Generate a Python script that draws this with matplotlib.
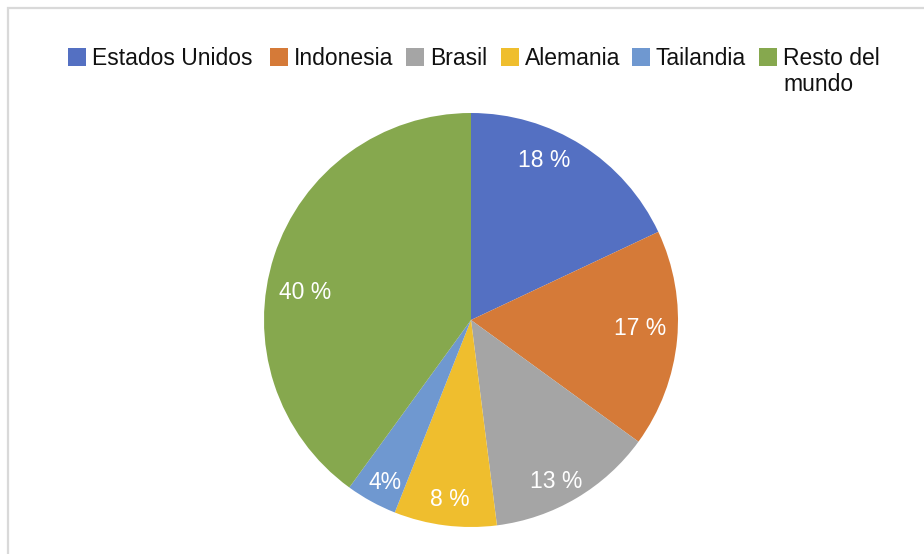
import numpy as np
import matplotlib
matplotlib.use("Agg")
import matplotlib.pyplot as plt
from matplotlib.patches import Rectangle

plt.rcParams['font.family'] = ['Liberation Sans', 'DejaVu Sans']

paises = ["Estados Unidos", "Indonesia", "Brasil", "Alemania", "Tailandia", "Resto del\nmundo"]
valores = [18, 17, 13, 8, 4, 40]
etiquetas = ["18 %", "17 %", "13 %", "8 %", "4%", "40 %"]
colores = ["#5470C2", "#D57A38", "#A5A5A5", "#EFBE2E", "#6F98D0", "#86A84E"]
# label placement inside each wedge: fraction of the wedge angle, fraction of radius
frac_ang = [0.62, 0.54, 0.44, 0.52, 0.57, 0.56]
dist_etiq = [0.845, 0.82, 0.88, 0.875, 0.89, 0.81]
# legend square left edges (px)
ley_x = [68, 270, 406, 501, 632, 759]

W, H = 924, 554
fig = plt.figure(figsize=(W / 100, H / 100), dpi=100)

def px(x, y):
    return x / W, 1 - y / H

# light grey frame of the chart area
fig.patches.append(Rectangle((8 / W, -0.05), 1.1, (H - 8) / H + 0.05,
                             transform=fig.transFigure, fill=False,
                             edgecolor="#D9D9D9", linewidth=1.6))

cx, cy, r = 471, 320, 207
ax = fig.add_axes([(cx - r) / W, (H - cy - r) / H, 2 * r / W, 2 * r / H])
wedges, _ = ax.pie(valores, colors=colores, startangle=90, counterclock=False,
                   wedgeprops=dict(linewidth=0))
ax.set_xlim(-1, 1)
ax.set_ylim(-1, 1)
ax.set_aspect("equal")

for w, txt, f, d in zip(wedges, etiquetas, frac_ang, dist_etiq):
    ang = np.deg2rad(w.theta1 + f * (w.theta2 - w.theta1))
    ax.text(d * np.cos(ang), d * np.sin(ang), txt, color="white",
            fontsize=16.5, ha="center", va="center")

# legend drawn by hand so the two-line entry aligns on its first line
for x0, nombre, col in zip(ley_x, paises, colores):
    x, y = px(x0, 66)
    fig.patches.append(Rectangle((x, y), 18 / W, 18 / H, transform=fig.transFigure,
                                 facecolor=col, edgecolor="none"))
    for i, linea in enumerate(nombre.split("\n")):
        tx, ty = px(x0 + 24, 65 + 26 * i)
        fig.text(tx, ty, linea, fontsize=16.5, color="#111111", ha="left", va="baseline")

fig.savefig("out.png", dpi=100)
